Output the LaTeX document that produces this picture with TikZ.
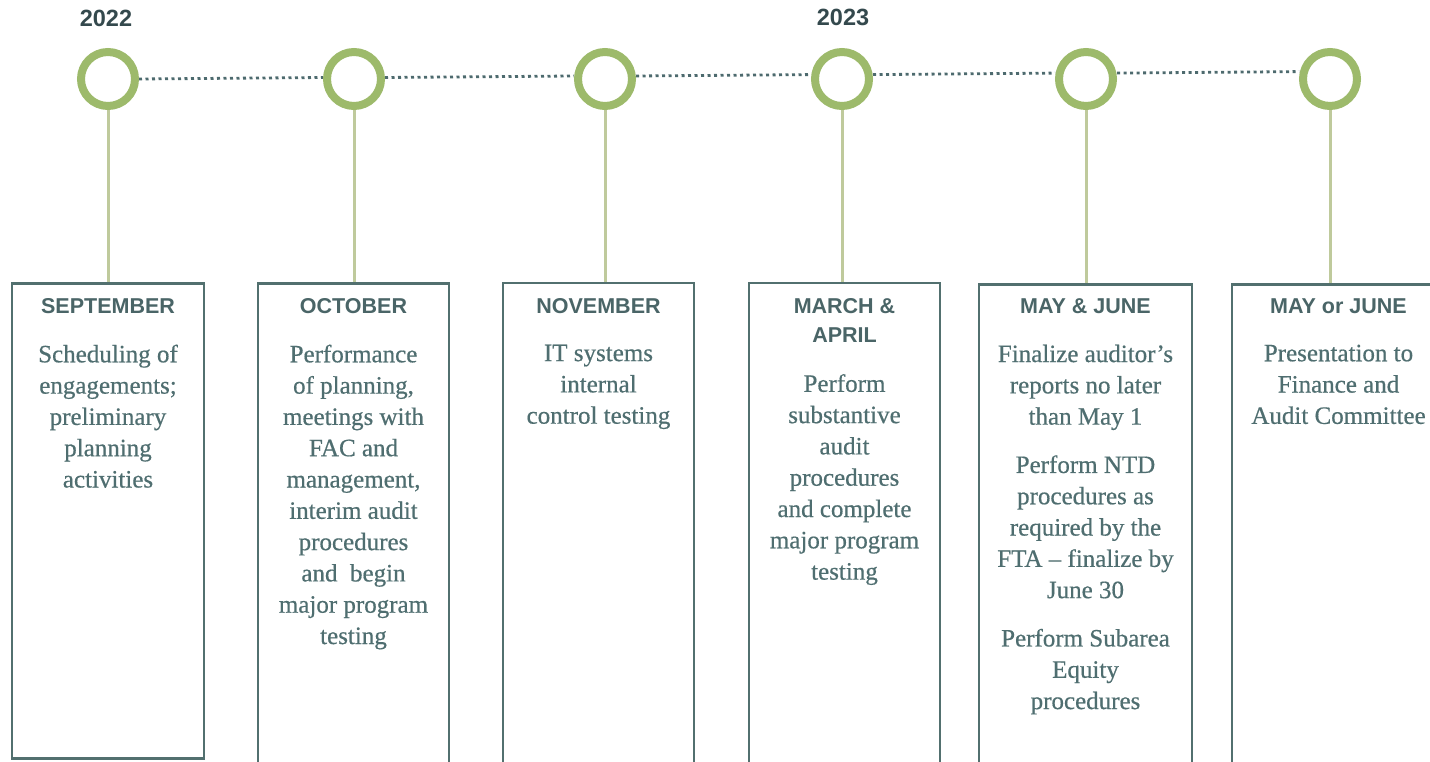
\documentclass[tikz,border=0pt]{standalone}
\usepackage{fontspec}
\setmainfont{Liberation Serif}[FakeBold=0.5]
\newfontfamily\hdfont{Liberation Sans}
\usetikzlibrary{backgrounds}
\definecolor{ringgreen}{HTML}{9DBA6B}
\definecolor{stemgreen}{HTML}{BFCA9C}
\definecolor{dotcol}{HTML}{4D6A6E}
\definecolor{boxcol}{HTML}{52706F}
\definecolor{hdcol}{HTML}{4A6567}
\definecolor{bodycol}{HTML}{4F6E70}
\definecolor{yearcol}{HTML}{34494D}
\begin{document}
\begin{tikzpicture}[x=1pt,y=-1pt,
  ring/.style={circle,draw=ringgreen,line width=8pt,minimum size=54pt,inner sep=0pt,fill=white},
  stemline/.style={draw=stemgreen,line width=3pt},
  dotline/.style={draw=dotcol,line width=2.8pt,dash pattern=on 3pt off 3.5pt},
  box/.style={draw=boxcol,line width=2.6pt,rectangle,inner sep=0pt,anchor=north,fill=white},
  hd/.style={font=\hdfont\bfseries\fontsize{21.5pt}{29pt}\selectfont,text=hdcol,align=center,inner sep=0pt,anchor=north},
  year/.style={font=\hdfont\bfseries\fontsize{23.5pt}{28pt}\selectfont,text=yearcol,inner sep=0pt,anchor=base},
  body/.style={font=\fontsize{25pt}{31.3pt}\selectfont,text=bodycol,align=center,inner sep=0pt,anchor=north}
]
\useasboundingbox (0,0) rectangle (1430,762);
\clip (0,0) rectangle (1430,762);

% years
\node[year] (y1) at (106,27) {2022};
\node[year] (y2) at (843,26) {2023};

% circles
\node[ring] (c1) at (108,79) {};
\node[ring] (c2) at (354,79) {};
\node[ring] (c3) at (605,79) {};
\node[ring] (c4) at (842,79) {};
\node[ring] (c5) at (1086,79) {};
\node[ring] (c6) at (1330,79) {};

% boxes
\node[box,minimum width=192pt,minimum height=475pt] (b1) at (108,282) {};
\node[box,minimum width=191pt,minimum height=520pt] (b2) at (353.5,282) {};
\node[box,minimum width=191pt,minimum height=520pt] (b3) at (598.5,281.5) {};
\node[box,minimum width=191pt,minimum height=520pt] (b4) at (844.5,281.5) {};
\node[box,minimum width=213pt,minimum height=520pt] (b5) at (1085.5,283) {};
\node[box,minimum width=213pt,minimum height=520pt] (b6) at (1338.5,283) {};

\begin{scope}[on background layer]
  \fill[white] (0,0) rectangle (1430,762);
  \draw[stemline] (c1.center) -- (c1.center |- b1.north);
  \draw[stemline] (c2.center) -- (c2.center |- b2.north);
  \draw[stemline] (c3.center) -- (c3.center |- b3.north);
  \draw[stemline] (c4.center) -- (c4.center |- b4.north);
  \draw[stemline] (c5.center) -- (c5.center |- b5.north);
  \draw[stemline] (c6.center) -- (c6.center |- b6.north);
  \draw[dotline] (c1.east) -- ([yshift=1.5pt]c2.west);
  \draw[dotline] ([yshift=1.5pt]c2.east) -- ([yshift=3pt]c3.west);
  \draw[dotline] ([yshift=3pt]c3.east) -- ([yshift=4.4pt]c4.west);
  \draw[dotline] ([yshift=4.4pt]c4.east) -- ([yshift=5.9pt]c5.west);
  \draw[dotline] ([yshift=5.9pt]c5.east) -- ([yshift=7.4pt]c6.west);
\end{scope}

% headers
\node[hd] (h1) at (108,298.6) {SEPTEMBER};
\node[hd] (h2) at (353.5,298.6) {OCTOBER};
\node[hd] (h3) at (598.5,298.6) {NOVEMBER};
\node[hd] (h4) at (844.5,298.6) {MARCH \&\\APRIL};
\node[hd] (h5) at (1085.5,298.6) {MAY \& JUNE};
\node[hd] (h6) at (1338.5,298.6) {MAY or JUNE};

% bodies
\node[body] (t1) at (108,344.5) {Scheduling of\\engagements;\\preliminary\\planning\\activities};
\node[body] (t2) at (353.5,344.5) {Performance\\of planning,\\meetings with\\FAC and\\management,\\interim audit\\procedures\\and\ \ begin\\major program\\testing};
\node[body] (t3) at (598.5,344.5) {IT systems\\internal\\control testing};
\node[body] (t4) at (844.5,374) {Perform\\substantive\\audit\\procedures\\and complete\\major program\\testing};
\node[body] (t5) at (1085.5,344.5) {Finalize auditor’s\\reports no later\\than May 1\\[17pt]Perform NTD\\procedures as\\required by the\\FTA – finalize by\\June 30\\[17pt]Perform Subarea\\Equity\\procedures};
\node[body] (t6) at (1338.5,344.5) {Presentation to\\Finance and\\Audit Committee};
\end{tikzpicture}
\end{document}
